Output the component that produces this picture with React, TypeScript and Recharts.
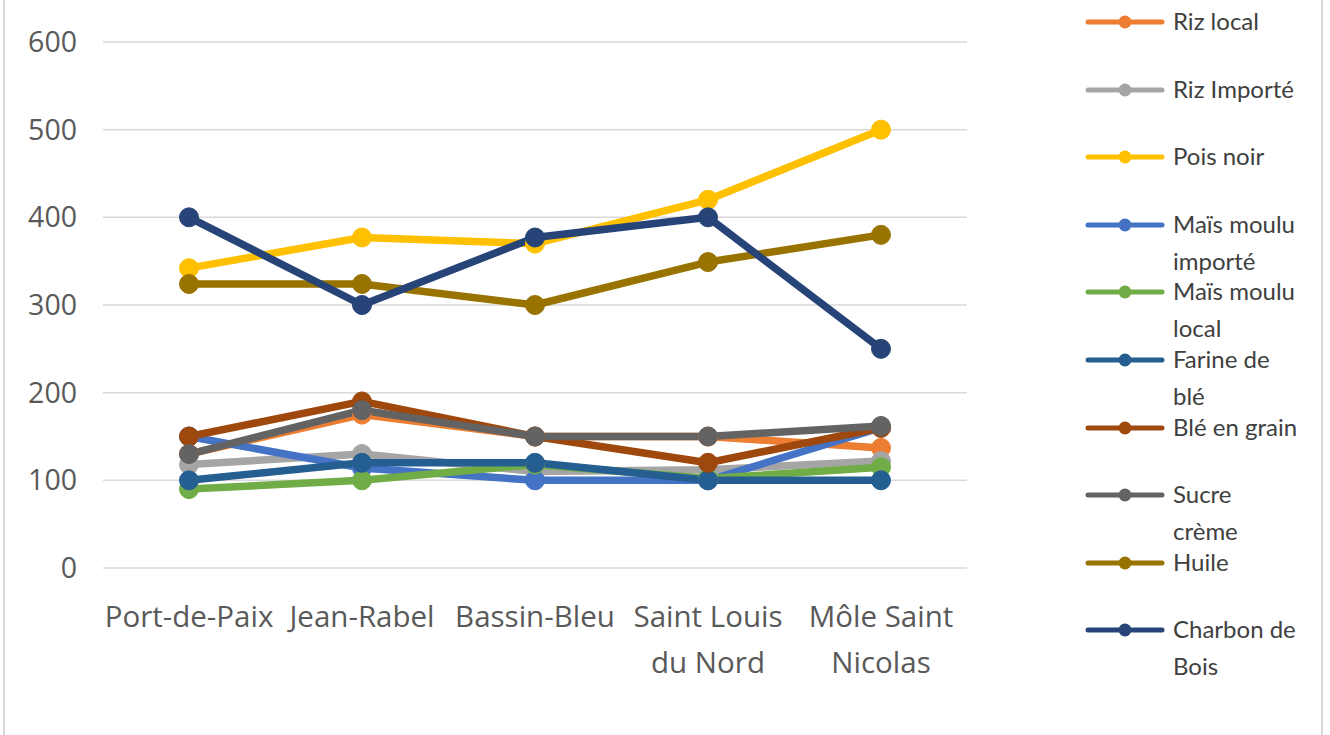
import React from 'react';
import { LineChart, Line, XAxis, YAxis, CartesianGrid } from 'recharts';

// communes (x axis)
const communes = ['Port-de-Paix', 'Jean-Rabel', 'Bassin-Bleu', 'Saint Louis du Nord', 'Môle Saint Nicolas'];

// price per product, one value per commune
const rizLocal = [130, 175, 150, 150, 137];
const rizImporte = [118, 130, 110, 112, 122];
const poisNoir = [342, 377, 370, 420, 500];
const maisImporte = [150, 114, 100, 100, 160];
const maisLocal = [90, 100, 118, 102, 115];
const farineBle = [100, 120, 120, 100, 100];
const bleGrain = [150, 190, 150, 120, 160];
const sucreCreme = [130, 180, 150, 150, 162];
const huile = [324, 324, 300, 349, 380];
const charbon = [400, 300, 377, 400, 250];

const yTicks = [0, 100, 200, 300, 400, 500, 600];

const series = [
  { key: 'rizLocal', name: 'Riz local', color: '#ED7D31', values: rizLocal },
  { key: 'rizImporte', name: 'Riz Importé', color: '#A5A5A5', values: rizImporte },
  { key: 'poisNoir', name: 'Pois noir', color: '#FFC000', values: poisNoir },
  { key: 'maisImporte', name: 'Maïs moulu\nimporté', color: '#4472C4', values: maisImporte },
  { key: 'maisLocal', name: 'Maïs moulu\nlocal', color: '#70AD47', values: maisLocal },
  { key: 'farineBle', name: 'Farine de\nblé', color: '#255E91', values: farineBle },
  { key: 'bleGrain', name: 'Blé en grain', color: '#9E480E', values: bleGrain },
  { key: 'sucreCreme', name: 'Sucre\ncrème', color: '#636363', values: sucreCreme },
  { key: 'huile', name: 'Huile', color: '#997300', values: huile },
  { key: 'charbon', name: 'Charbon de\nBois', color: '#264478', values: charbon },
];

const data = communes.map((commune, i) => {
  const row: Record<string, string | number> = { commune };
  series.forEach((s) => {
    row[s.key] = s.values[i];
  });
  return row;
});

// greedy word wrap, max chars per line
const wrapLabel = (label: string, max: number) => {
  const lines: string[] = [];
  let cur = '';
  label.split(' ').forEach((w) => {
    const next = cur ? cur + ' ' + w : w;
    if (next.length > max && cur) {
      lines.push(cur);
      cur = w;
    } else {
      cur = next;
    }
  });
  if (cur) lines.push(cur);
  return lines;
};

const CommuneTick = (props: any) => {
  const { x, y, payload } = props;
  const lines = wrapLabel(String(payload.value), 11);
  return (
    <text
      x={x}
      y={y}
      textAnchor="middle"
      fill="#595959"
      style={{ fontFamily: '"Open Sans", sans-serif', fontSize: 29.5 }}
    >
      {lines.map((l, i) => (
        <tspan key={i} x={x} dy={i === 0 ? 20 : 46}>
          {l}
        </tspan>
      ))}
    </text>
  );
};

const LegendBox = () => (
  <div style={{ position: 'absolute', left: 1085, top: 0, width: 235 }}>
    {series.map((s, i) => (
      <div
        key={s.key}
        style={{ position: 'absolute', top: 22 + i * 67.6 - 18, left: 0, display: 'flex', alignItems: 'flex-start' }}
      >
        <svg width={80} height={36} style={{ flex: 'none' }}>
          <line x1={3} y1={18} x2={77} y2={18} stroke={s.color} strokeWidth={5} strokeLinecap="round" />
          <circle cx={40} cy={18} r={6.5} fill={s.color} />
        </svg>
        <div
          style={{
            marginLeft: 8,
            fontFamily: 'Lato, sans-serif',
            fontSize: 24,
            lineHeight: '37px',
            marginTop: -2,
            color: '#404040',
            whiteSpace: 'pre-line',
          }}
        >
          {s.name}
        </div>
      </div>
    ))}
  </div>
);

export default function App() {
  return (
    <div style={{ position: 'absolute', left: 0, top: 0, width: 1330, height: 735, overflow: 'hidden', background: '#fff' }}>
      <style>{'body{margin:0;overflow:hidden;}'}</style>
      <div
        style={{
          position: 'absolute',
          left: 3,
          top: -40,
          width: 1320,
          height: 820,
          border: '2px solid #d9d9d9',
          boxSizing: 'border-box',
        }}
      />
      <div style={{ position: 'absolute', left: 0, top: 0 }}>
        <LineChart width={1330} height={735} data={data} margin={{ top: 42, right: 363, bottom: 67, left: 0 }}>
          <CartesianGrid vertical={false} stroke="#d9d9d9" strokeWidth={1.5} />
          <XAxis
            dataKey="commune"
            axisLine={false}
            tickLine={false}
            tickSize={0}
            tickMargin={39}
            height={100}
            interval={0}
            padding={{ left: 86, right: 86 }}
            tick={<CommuneTick />}
          />
          <YAxis
            domain={[0, 600]}
            ticks={yTicks}
            width={103}
            axisLine={false}
            tickLine={false}
            tickSize={0}
            tickMargin={26}
            tick={{ fontFamily: '"Open Sans", sans-serif', fontSize: 28.5, fill: '#595959' }}
          />
          {series.map((s) => (
            <Line
              key={s.key}
              dataKey={s.key}
              name={s.name}
              stroke={s.color}
              strokeWidth={7.5}
              strokeLinejoin="round"
              dot={{ r: 9.5, fill: s.color, stroke: s.color, strokeWidth: 1 }}
              activeDot={false}
              isAnimationActive={false}
            />
          ))}
        </LineChart>
      </div>
      <LegendBox />
    </div>
  );
}
